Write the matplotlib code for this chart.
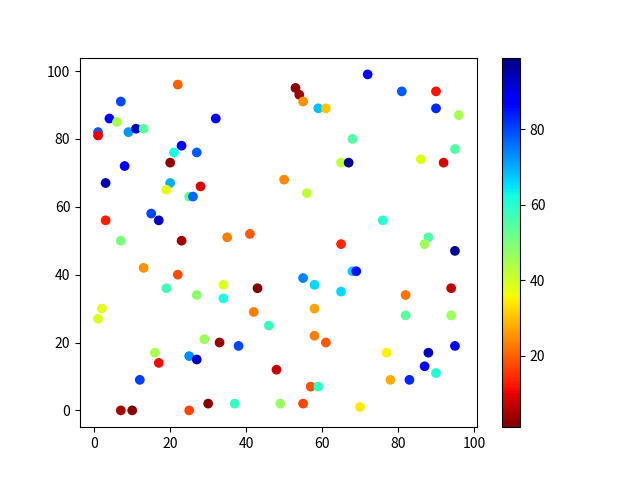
import matplotlib
matplotlib.use("Agg")
import matplotlib.pyplot as plt

plt.rcParams['font.family'] = ['Noto Sans CJK SC', 'DejaVu Sans']
plt.rcParams['axes.unicode_minus'] = False

x = [22, 7, 4, 6, 1, 1, 9, 11, 13, 32, 23, 21, 27, 8, 20, 3, 20, 19, 28, 25,
     26, 3, 15, 17, 7, 23, 13, 22, 19, 27, 53, 54, 55, 59, 61, 72, 81, 90, 90, 96,
     68, 95, 65, 67, 86, 92, 50, 56, 35, 41, 65, 76, 88, 87, 95, 68, 69, 55, 58, 65,
     82, 94, 34, 34, 43, 42, 46, 58, 58, 61, 82, 94, 2, 1, 29, 16, 17, 25, 27, 12,
     7, 10, 25, 30, 33, 38, 48, 57, 59, 37, 49, 55, 77, 88, 95, 87, 90, 78, 83, 70]
y = [96, 91, 86, 85, 82, 81, 82, 83, 83, 86, 78, 76, 76, 72, 73, 67, 67, 65, 66, 63,
     63, 56, 58, 56, 50, 50, 42, 40, 36, 34, 95, 93, 91, 89, 89, 99, 94, 94, 89, 87,
     80, 77, 73, 73, 74, 73, 68, 64, 51, 52, 49, 56, 51, 49, 47, 41, 41, 39, 37, 35,
     34, 36, 37, 33, 36, 29, 25, 30, 22, 20, 28, 28, 30, 27, 21, 17, 14, 16, 15, 9,
     0, 0, 0, 2, 20, 19, 12, 7, 7, 2, 2, 2, 17, 17, 19, 13, 11, 9, 9, 1]
c = [20, 80, 88, 45, 78, 10, 72, 93, 54, 88, 87, 62, 78, 87, 3, 95, 70, 37, 9, 53,
     77, 13, 80, 93, 50, 4, 25, 18, 57, 48, 2, 4, 25, 68, 30, 87, 78, 12, 83, 45,
     55, 55, 42, 98, 38, 9, 24, 42, 23, 19, 14, 60, 55, 46, 97, 67, 85, 74, 66, 66,
     22, 7, 38, 62, 1, 23, 58, 27, 23, 19, 54, 46, 38, 39, 46, 45, 11, 73, 93, 81,
     5, 2, 17, 2, 3, 80, 7, 18, 59, 59, 47, 17, 35, 94, 88, 88, 61, 28, 83, 34]
c[0] = 20
c_range = [1, 99]

fig, ax = plt.subplots(figsize=(6.4, 4.8), dpi=100)
sc = ax.scatter(x, y, c=c, cmap='jet_r', vmin=c_range[0], vmax=c_range[1])
fig.colorbar(sc, ax=ax)
fig.savefig('out.png')
